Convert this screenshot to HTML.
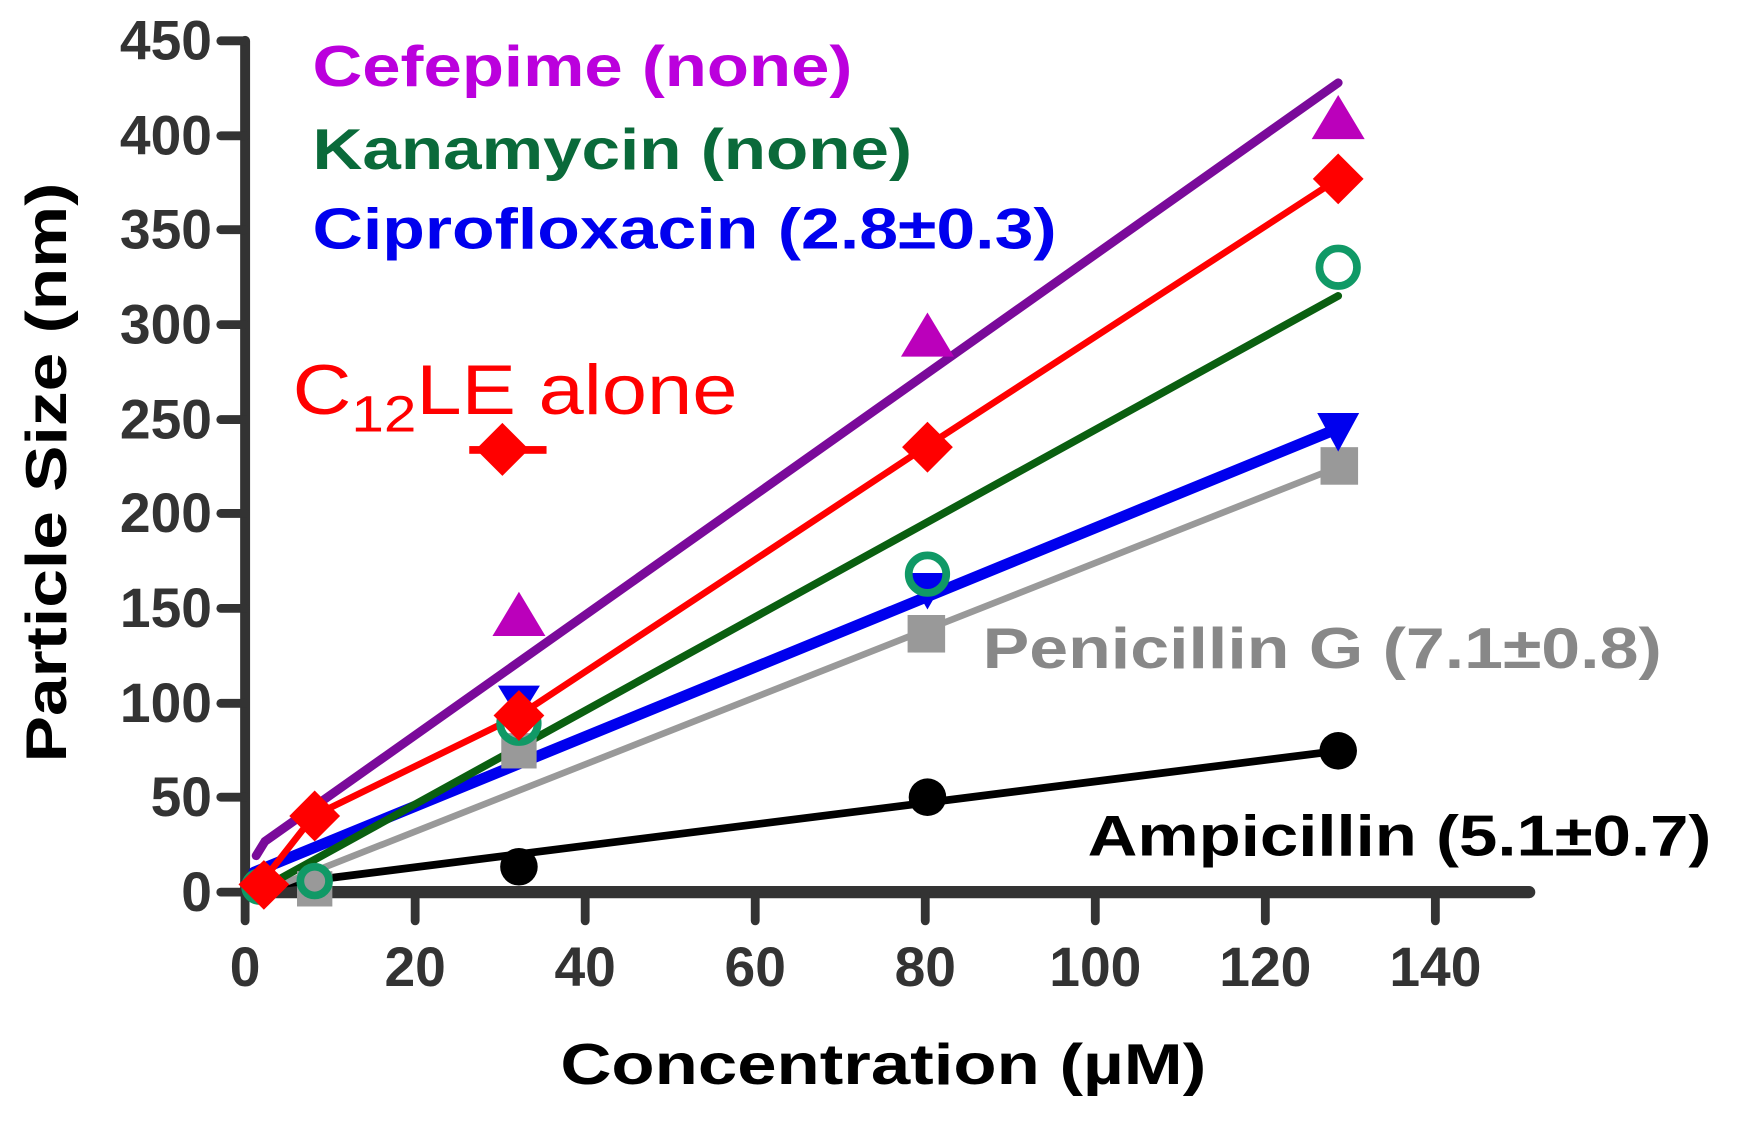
<!DOCTYPE html>
<html><head><meta charset="utf-8"><style>
html,body{margin:0;padding:0;background:#fff;}
svg{display:block;}
text{font-family:"Liberation Sans",Arial,sans-serif;}
</style></head><body>
<svg width="1739" height="1124" viewBox="0 0 1575 1018" preserveAspectRatio="none" xmlns="http://www.w3.org/2000/svg">
<rect width="1575" height="1018" fill="#fff"/>
<g stroke="#333" stroke-linecap="round">
<line x1="222" y1="37" x2="222" y2="808" stroke-width="9"/>
<line x1="222" y1="808" x2="1385" y2="808" stroke-width="11"/>
<g stroke-width="8">
<line x1="200" y1="808" x2="222" y2="808"/>
<line x1="200" y1="722" x2="222" y2="722"/>
<line x1="200" y1="637" x2="222" y2="637"/>
<line x1="200" y1="551" x2="222" y2="551"/>
<line x1="200" y1="465" x2="222" y2="465"/>
<line x1="200" y1="380" x2="222" y2="380"/>
<line x1="200" y1="294" x2="222" y2="294"/>
<line x1="200" y1="208" x2="222" y2="208"/>
<line x1="200" y1="123" x2="222" y2="123"/>
<line x1="200" y1="37" x2="222" y2="37"/>
<line x1="222" y1="808" x2="222" y2="834"/>
<line x1="376" y1="808" x2="376" y2="834"/>
<line x1="530" y1="808" x2="530" y2="834"/>
<line x1="684" y1="808" x2="684" y2="834"/>
<line x1="838" y1="808" x2="838" y2="834"/>
<line x1="992" y1="808" x2="992" y2="834"/>
<line x1="1146" y1="808" x2="1146" y2="834"/>
<line x1="1300" y1="808" x2="1300" y2="834"/>
</g></g>
<g font-size="50" font-weight="bold" fill="#333" text-anchor="end">
<text x="192" y="825">0</text>
<text x="192" y="739">50</text>
<text x="192" y="654">100</text>
<text x="192" y="568">150</text>
<text x="192" y="482">200</text>
<text x="192" y="397">250</text>
<text x="192" y="311">300</text>
<text x="192" y="225">350</text>
<text x="192" y="140">400</text>
<text x="192" y="54">450</text>
</g>
<g font-size="50" font-weight="bold" fill="#333" text-anchor="middle">
<text x="222" y="893">0</text>
<text x="376" y="893">20</text>
<text x="530" y="893">40</text>
<text x="684" y="893">60</text>
<text x="838" y="893">80</text>
<text x="992" y="893">100</text>
<text x="1146" y="893">120</text>
<text x="1300" y="893">140</text>
</g>
<text x="800" y="982" font-size="52" font-weight="bold" fill="#000" text-anchor="middle" textLength="585" lengthAdjust="spacingAndGlyphs">Concentration (µM)</text>
<text transform="translate(60,428) rotate(-90)" font-size="52" font-weight="bold" fill="#000" text-anchor="middle" textLength="525" lengthAdjust="spacingAndGlyphs">Particle Size (nm)</text>

<g stroke-linecap="round" fill="none">
<line x1="237" y1="803" x2="1212" y2="680" stroke="#000" stroke-width="7"/>
<line x1="237" y1="808" x2="1212" y2="423" stroke="#999" stroke-width="6"/>
<line x1="230" y1="790" x2="1212" y2="388" stroke="#0000ee" stroke-width="10"/>
<line x1="237" y1="805" x2="1212" y2="268" stroke="#0a5f10" stroke-width="7"/>
<polyline points="237,799 284,739 470,648 838,405 1212,162" stroke="#ff0000" stroke-width="6"/>
<polyline points="232,775 240,762 1212,75" stroke="#7a0a9a" stroke-width="8"/>
</g>
<g fill="#000">
<circle cx="470" cy="785" r="17"/><circle cx="840" cy="722" r="17"/><circle cx="1212" cy="680" r="17"/>
</g>
<g fill="#999">
<rect x="269" y="789" width="32" height="32"/><rect x="454" y="664" width="32" height="32"/>
<rect x="822" y="557" width="34" height="34"/><rect x="1196" y="405" width="34" height="34"/>
</g>
<g fill="#0000ee">
<polygon points="451,621 489,621 470,652"/><polygon points="821,519 859,519 840,552"/>
<polygon points="1193,374 1231,374 1212,409"/>
</g>
<g fill="none" stroke="#109966" stroke-width="7">
<circle cx="285" cy="798" r="13"/><circle cx="470" cy="655" r="17"/>
<circle cx="840" cy="520" r="17"/><circle cx="1212" cy="242" r="17"/>
<circle cx="235" cy="803" r="13"/>
</g>
<g fill="#bb00bb">
<polygon points="470,536 494,576 446,576"/><polygon points="840,283 864,323 816,323"/>
<polygon points="1212,86 1236,126 1188,126"/>
</g>
<g fill="#ff0000">
<polygon points="239,779 262,801 239,824 216,801"/>
<polygon points="285,716 308,739 285,762 262,739"/>
<polygon points="470,625 493,648 470,671 447,648"/>
<polygon points="840,382 863,405 840,428 817,405"/>
<polygon points="1212,139 1235,162 1212,185 1189,162"/>
<polygon points="455,383 479,407 455,431 431,407"/>
<rect x="425" y="404" width="70" height="7"/>
</g>
<g font-weight="bold" font-size="52">
<text x="283" y="78" fill="#bb00dd" textLength="489" lengthAdjust="spacingAndGlyphs">Cefepime (none)</text>
<text x="283" y="153" fill="#0a6a3a" textLength="543" lengthAdjust="spacingAndGlyphs">Kanamycin (none)</text>
<text x="283" y="225" fill="#0000ee" textLength="674" lengthAdjust="spacingAndGlyphs">Ciprofloxacin (2.8±0.3)</text>
<text x="890" y="605" fill="#888" textLength="615" lengthAdjust="spacingAndGlyphs">Penicillin G (7.1±0.8)</text>
<text x="985" y="775" fill="#000" textLength="565" lengthAdjust="spacingAndGlyphs">Ampicillin (5.1±0.7)</text>
</g>
<text x="265" y="375" fill="#ff0000" font-size="64" textLength="403" lengthAdjust="spacingAndGlyphs">C<tspan font-size="46" dy="16">12</tspan><tspan dy="-16">LE alone</tspan></text>
</svg>
</body></html>
